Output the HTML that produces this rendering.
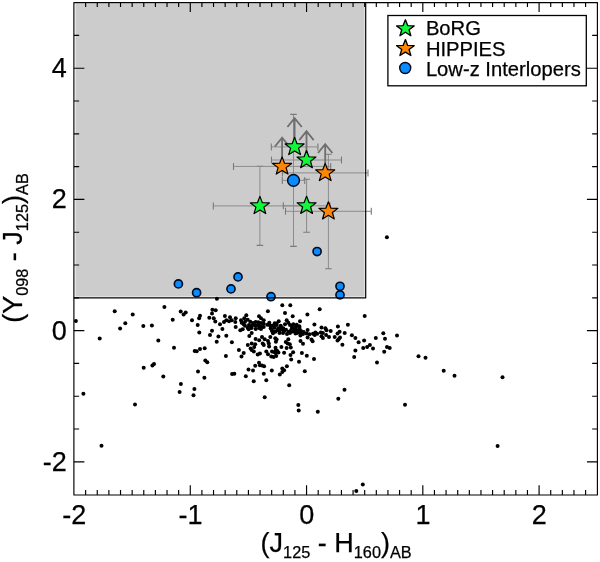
<!DOCTYPE html>
<html><head><meta charset="utf-8"><style>
html,body{margin:0;padding:0;background:#fff;}
svg{display:block;font-family:"Liberation Sans",sans-serif;will-change:transform;}
text{stroke:#000;stroke-width:0.25px;}
</style></head><body>
<svg width="600" height="562" viewBox="0 0 600 562">
<rect x="75.5" y="3.4" width="289.10" height="293.20" fill="#cccccc"/>
<circle cx="75.9" cy="321.1" r="2.0" fill="#000"/>
<circle cx="114.7" cy="311.3" r="2.0" fill="#000"/>
<circle cx="132.7" cy="314.6" r="2.0" fill="#000"/>
<circle cx="125.3" cy="323.3" r="2.0" fill="#000"/>
<circle cx="120.1" cy="328.6" r="2.0" fill="#000"/>
<circle cx="99.7" cy="338.5" r="2.0" fill="#000"/>
<circle cx="143.3" cy="325.9" r="2.0" fill="#000"/>
<circle cx="151.9" cy="325.4" r="2.0" fill="#000"/>
<circle cx="83.4" cy="393.8" r="2.0" fill="#000"/>
<circle cx="143.7" cy="367.7" r="2.0" fill="#000"/>
<circle cx="135.0" cy="404.6" r="2.0" fill="#000"/>
<circle cx="101.5" cy="445.7" r="2.0" fill="#000"/>
<circle cx="216.9" cy="298.7" r="2.0" fill="#000"/>
<circle cx="164.4" cy="307.0" r="2.0" fill="#000"/>
<circle cx="180.7" cy="311.4" r="2.0" fill="#000"/>
<circle cx="185.7" cy="312.6" r="2.0" fill="#000"/>
<circle cx="183.6" cy="314.6" r="2.0" fill="#000"/>
<circle cx="172.7" cy="319.8" r="2.0" fill="#000"/>
<circle cx="192.0" cy="320.3" r="2.0" fill="#000"/>
<circle cx="200.0" cy="315.7" r="2.0" fill="#000"/>
<circle cx="199.1" cy="318.3" r="2.0" fill="#000"/>
<circle cx="197.7" cy="325.0" r="2.0" fill="#000"/>
<circle cx="199.3" cy="332.6" r="2.0" fill="#000"/>
<circle cx="212.4" cy="309.7" r="2.0" fill="#000"/>
<circle cx="215.7" cy="310.3" r="2.0" fill="#000"/>
<circle cx="212.0" cy="313.4" r="2.0" fill="#000"/>
<circle cx="209.3" cy="317.7" r="2.0" fill="#000"/>
<circle cx="213.7" cy="318.3" r="2.0" fill="#000"/>
<circle cx="215.3" cy="321.4" r="2.0" fill="#000"/>
<circle cx="220.0" cy="324.3" r="2.0" fill="#000"/>
<circle cx="224.9" cy="316.1" r="2.0" fill="#000"/>
<circle cx="224.0" cy="322.1" r="2.0" fill="#000"/>
<circle cx="222.4" cy="329.1" r="2.0" fill="#000"/>
<circle cx="212.0" cy="330.7" r="2.0" fill="#000"/>
<circle cx="210.0" cy="335.0" r="2.0" fill="#000"/>
<circle cx="218.4" cy="336.6" r="2.0" fill="#000"/>
<circle cx="216.7" cy="341.7" r="2.0" fill="#000"/>
<circle cx="158.3" cy="340.6" r="2.0" fill="#000"/>
<circle cx="174.0" cy="347.7" r="2.0" fill="#000"/>
<circle cx="194.7" cy="351.0" r="2.0" fill="#000"/>
<circle cx="196.7" cy="351.3" r="2.0" fill="#000"/>
<circle cx="200.0" cy="349.0" r="2.0" fill="#000"/>
<circle cx="204.7" cy="348.3" r="2.0" fill="#000"/>
<circle cx="152.4" cy="365.5" r="2.0" fill="#000"/>
<circle cx="154.0" cy="364.0" r="2.0" fill="#000"/>
<circle cx="163.3" cy="376.4" r="2.0" fill="#000"/>
<circle cx="180.9" cy="384.0" r="2.0" fill="#000"/>
<circle cx="179.6" cy="392.0" r="2.0" fill="#000"/>
<circle cx="194.4" cy="388.9" r="2.0" fill="#000"/>
<circle cx="193.5" cy="395.3" r="2.0" fill="#000"/>
<circle cx="198.0" cy="371.6" r="2.0" fill="#000"/>
<circle cx="204.4" cy="377.7" r="2.0" fill="#000"/>
<circle cx="205.3" cy="360.4" r="2.0" fill="#000"/>
<circle cx="207.3" cy="362.3" r="2.0" fill="#000"/>
<circle cx="245.8" cy="376.2" r="2.0" fill="#000"/>
<circle cx="253.7" cy="381.2" r="2.0" fill="#000"/>
<circle cx="266.3" cy="380.3" r="2.0" fill="#000"/>
<circle cx="289.2" cy="385.3" r="2.0" fill="#000"/>
<circle cx="264.7" cy="397.2" r="2.0" fill="#000"/>
<circle cx="298.3" cy="405.0" r="2.0" fill="#000"/>
<circle cx="298.7" cy="410.5" r="2.0" fill="#000"/>
<circle cx="317.8" cy="411.7" r="2.0" fill="#000"/>
<circle cx="383.3" cy="333.3" r="2.0" fill="#000"/>
<circle cx="385.0" cy="338.7" r="2.0" fill="#000"/>
<circle cx="397.0" cy="335.5" r="2.0" fill="#000"/>
<circle cx="387.0" cy="347.0" r="2.0" fill="#000"/>
<circle cx="389.7" cy="348.0" r="2.0" fill="#000"/>
<circle cx="384.2" cy="351.7" r="2.0" fill="#000"/>
<circle cx="354.2" cy="357.0" r="2.0" fill="#000"/>
<circle cx="377.0" cy="362.5" r="2.0" fill="#000"/>
<circle cx="418.5" cy="356.3" r="2.0" fill="#000"/>
<circle cx="344.5" cy="389.7" r="2.0" fill="#000"/>
<circle cx="338.3" cy="398.8" r="2.0" fill="#000"/>
<circle cx="405.0" cy="404.7" r="2.0" fill="#000"/>
<circle cx="362.8" cy="484.5" r="2.0" fill="#000"/>
<circle cx="356.3" cy="491.0" r="2.0" fill="#000"/>
<circle cx="425.5" cy="357.8" r="2.0" fill="#000"/>
<circle cx="443.7" cy="370.8" r="2.0" fill="#000"/>
<circle cx="454.5" cy="375.8" r="2.0" fill="#000"/>
<circle cx="502.5" cy="377.3" r="2.0" fill="#000"/>
<circle cx="497.6" cy="446.0" r="2.0" fill="#000"/>
<circle cx="386.9" cy="237.3" r="2.0" fill="#000"/>
<circle cx="246.3" cy="315.3" r="2.0" fill="#000"/>
<circle cx="230.0" cy="317.3" r="2.0" fill="#000"/>
<circle cx="235.7" cy="318.3" r="2.0" fill="#000"/>
<circle cx="259.0" cy="316.3" r="2.0" fill="#000"/>
<circle cx="261.0" cy="318.3" r="2.0" fill="#000"/>
<circle cx="263.7" cy="320.3" r="2.0" fill="#000"/>
<circle cx="226.3" cy="320.3" r="2.0" fill="#000"/>
<circle cx="229.0" cy="321.3" r="2.0" fill="#000"/>
<circle cx="231.7" cy="320.3" r="2.0" fill="#000"/>
<circle cx="235.3" cy="322.0" r="2.0" fill="#000"/>
<circle cx="235.7" cy="327.0" r="2.0" fill="#000"/>
<circle cx="241.0" cy="320.3" r="2.0" fill="#000"/>
<circle cx="244.3" cy="318.3" r="2.0" fill="#000"/>
<circle cx="247.7" cy="319.7" r="2.0" fill="#000"/>
<circle cx="241.7" cy="322.7" r="2.0" fill="#000"/>
<circle cx="243.7" cy="324.3" r="2.0" fill="#000"/>
<circle cx="245.0" cy="321.7" r="2.0" fill="#000"/>
<circle cx="250.3" cy="321.7" r="2.0" fill="#000"/>
<circle cx="253.0" cy="323.0" r="2.0" fill="#000"/>
<circle cx="255.7" cy="322.0" r="2.0" fill="#000"/>
<circle cx="258.3" cy="322.3" r="2.0" fill="#000"/>
<circle cx="261.0" cy="323.0" r="2.0" fill="#000"/>
<circle cx="263.7" cy="323.7" r="2.0" fill="#000"/>
<circle cx="245.0" cy="325.7" r="2.0" fill="#000"/>
<circle cx="249.0" cy="325.0" r="2.0" fill="#000"/>
<circle cx="251.0" cy="326.3" r="2.0" fill="#000"/>
<circle cx="253.0" cy="325.0" r="2.0" fill="#000"/>
<circle cx="255.7" cy="325.7" r="2.0" fill="#000"/>
<circle cx="258.3" cy="325.0" r="2.0" fill="#000"/>
<circle cx="261.0" cy="326.3" r="2.0" fill="#000"/>
<circle cx="263.7" cy="327.0" r="2.0" fill="#000"/>
<circle cx="247.7" cy="327.7" r="2.0" fill="#000"/>
<circle cx="248.7" cy="329.3" r="2.0" fill="#000"/>
<circle cx="251.7" cy="328.0" r="2.0" fill="#000"/>
<circle cx="255.7" cy="329.0" r="2.0" fill="#000"/>
<circle cx="259.0" cy="328.0" r="2.0" fill="#000"/>
<circle cx="261.0" cy="329.0" r="2.0" fill="#000"/>
<circle cx="240.3" cy="330.3" r="2.0" fill="#000"/>
<circle cx="242.7" cy="329.3" r="2.0" fill="#000"/>
<circle cx="251.7" cy="333.0" r="2.0" fill="#000"/>
<circle cx="249.3" cy="336.0" r="2.0" fill="#000"/>
<circle cx="226.3" cy="335.7" r="2.0" fill="#000"/>
<circle cx="282.3" cy="305.3" r="2.0" fill="#000"/>
<circle cx="290.3" cy="305.3" r="2.0" fill="#000"/>
<circle cx="267.9" cy="311.3" r="2.0" fill="#000"/>
<circle cx="285.0" cy="313.0" r="2.0" fill="#000"/>
<circle cx="292.7" cy="316.3" r="2.0" fill="#000"/>
<circle cx="278.7" cy="321.3" r="2.0" fill="#000"/>
<circle cx="286.7" cy="320.3" r="2.0" fill="#000"/>
<circle cx="300.0" cy="321.3" r="2.0" fill="#000"/>
<circle cx="269.3" cy="322.7" r="2.0" fill="#000"/>
<circle cx="274.7" cy="323.3" r="2.0" fill="#000"/>
<circle cx="288.3" cy="322.7" r="2.0" fill="#000"/>
<circle cx="293.3" cy="324.3" r="2.0" fill="#000"/>
<circle cx="296.7" cy="324.7" r="2.0" fill="#000"/>
<circle cx="267.3" cy="324.7" r="2.0" fill="#000"/>
<circle cx="272.0" cy="325.7" r="2.0" fill="#000"/>
<circle cx="276.7" cy="325.0" r="2.0" fill="#000"/>
<circle cx="280.7" cy="325.7" r="2.0" fill="#000"/>
<circle cx="285.0" cy="324.3" r="2.0" fill="#000"/>
<circle cx="290.0" cy="325.0" r="2.0" fill="#000"/>
<circle cx="299.3" cy="326.3" r="2.0" fill="#000"/>
<circle cx="270.7" cy="328.3" r="2.0" fill="#000"/>
<circle cx="274.7" cy="327.7" r="2.0" fill="#000"/>
<circle cx="278.7" cy="328.3" r="2.0" fill="#000"/>
<circle cx="283.3" cy="328.3" r="2.0" fill="#000"/>
<circle cx="292.0" cy="328.0" r="2.0" fill="#000"/>
<circle cx="295.3" cy="327.7" r="2.0" fill="#000"/>
<circle cx="299.3" cy="329.0" r="2.0" fill="#000"/>
<circle cx="272.0" cy="331.0" r="2.0" fill="#000"/>
<circle cx="275.3" cy="331.7" r="2.0" fill="#000"/>
<circle cx="279.3" cy="330.7" r="2.0" fill="#000"/>
<circle cx="284.0" cy="331.3" r="2.0" fill="#000"/>
<circle cx="288.7" cy="331.7" r="2.0" fill="#000"/>
<circle cx="294.7" cy="331.3" r="2.0" fill="#000"/>
<circle cx="298.0" cy="332.3" r="2.0" fill="#000"/>
<circle cx="273.0" cy="333.3" r="2.0" fill="#000"/>
<circle cx="270.3" cy="337.0" r="2.0" fill="#000"/>
<circle cx="275.3" cy="338.3" r="2.0" fill="#000"/>
<circle cx="262.0" cy="337.0" r="2.0" fill="#000"/>
<circle cx="264.7" cy="339.3" r="2.0" fill="#000"/>
<circle cx="288.3" cy="339.3" r="2.0" fill="#000"/>
<circle cx="319.7" cy="309.3" r="2.0" fill="#000"/>
<circle cx="307.4" cy="314.4" r="2.0" fill="#000"/>
<circle cx="314.4" cy="324.4" r="2.0" fill="#000"/>
<circle cx="321.5" cy="327.4" r="2.0" fill="#000"/>
<circle cx="325.4" cy="328.3" r="2.0" fill="#000"/>
<circle cx="326.5" cy="330.3" r="2.0" fill="#000"/>
<circle cx="330.7" cy="331.0" r="2.0" fill="#000"/>
<circle cx="337.9" cy="326.4" r="2.0" fill="#000"/>
<circle cx="300.8" cy="333.5" r="2.0" fill="#000"/>
<circle cx="303.7" cy="332.0" r="2.0" fill="#000"/>
<circle cx="307.6" cy="329.9" r="2.0" fill="#000"/>
<circle cx="306.5" cy="333.5" r="2.0" fill="#000"/>
<circle cx="309.4" cy="334.2" r="2.0" fill="#000"/>
<circle cx="313.0" cy="333.8" r="2.0" fill="#000"/>
<circle cx="315.4" cy="332.4" r="2.0" fill="#000"/>
<circle cx="317.2" cy="333.8" r="2.0" fill="#000"/>
<circle cx="314.7" cy="334.9" r="2.0" fill="#000"/>
<circle cx="320.8" cy="332.4" r="2.0" fill="#000"/>
<circle cx="322.9" cy="333.1" r="2.0" fill="#000"/>
<circle cx="326.1" cy="334.9" r="2.0" fill="#000"/>
<circle cx="321.5" cy="336.3" r="2.0" fill="#000"/>
<circle cx="322.9" cy="338.1" r="2.0" fill="#000"/>
<circle cx="329.0" cy="337.0" r="2.0" fill="#000"/>
<circle cx="334.7" cy="337.0" r="2.0" fill="#000"/>
<circle cx="337.5" cy="333.5" r="2.0" fill="#000"/>
<circle cx="337.5" cy="340.6" r="2.0" fill="#000"/>
<circle cx="307.6" cy="337.4" r="2.0" fill="#000"/>
<circle cx="311.5" cy="339.5" r="2.0" fill="#000"/>
<circle cx="312.6" cy="341.3" r="2.0" fill="#000"/>
<circle cx="300.5" cy="340.9" r="2.0" fill="#000"/>
<circle cx="303.0" cy="343.8" r="2.0" fill="#000"/>
<circle cx="364.7" cy="315.9" r="2.0" fill="#000"/>
<circle cx="347.9" cy="324.8" r="2.0" fill="#000"/>
<circle cx="339.6" cy="331.7" r="2.0" fill="#000"/>
<circle cx="344.7" cy="332.9" r="2.0" fill="#000"/>
<circle cx="340.0" cy="337.6" r="2.0" fill="#000"/>
<circle cx="338.6" cy="339.2" r="2.0" fill="#000"/>
<circle cx="342.4" cy="344.8" r="2.0" fill="#000"/>
<circle cx="351.9" cy="335.3" r="2.0" fill="#000"/>
<circle cx="355.4" cy="338.0" r="2.0" fill="#000"/>
<circle cx="358.6" cy="342.2" r="2.0" fill="#000"/>
<circle cx="364.1" cy="340.5" r="2.0" fill="#000"/>
<circle cx="369.9" cy="344.9" r="2.0" fill="#000"/>
<circle cx="367.1" cy="346.9" r="2.0" fill="#000"/>
<circle cx="363.2" cy="347.9" r="2.0" fill="#000"/>
<circle cx="373.0" cy="348.5" r="2.0" fill="#000"/>
<circle cx="355.4" cy="350.6" r="2.0" fill="#000"/>
<circle cx="255.6" cy="338.9" r="2.0" fill="#000"/>
<circle cx="259.2" cy="340.3" r="2.0" fill="#000"/>
<circle cx="262.7" cy="343.5" r="2.0" fill="#000"/>
<circle cx="263.8" cy="345.0" r="2.0" fill="#000"/>
<circle cx="231.9" cy="342.3" r="2.0" fill="#000"/>
<circle cx="247.8" cy="345.0" r="2.0" fill="#000"/>
<circle cx="251.7" cy="343.5" r="2.0" fill="#000"/>
<circle cx="255.2" cy="344.3" r="2.0" fill="#000"/>
<circle cx="254.2" cy="347.1" r="2.0" fill="#000"/>
<circle cx="250.6" cy="348.5" r="2.0" fill="#000"/>
<circle cx="251.7" cy="350.0" r="2.0" fill="#000"/>
<circle cx="253.8" cy="351.5" r="2.0" fill="#000"/>
<circle cx="238.9" cy="350.0" r="2.0" fill="#000"/>
<circle cx="243.7" cy="353.1" r="2.0" fill="#000"/>
<circle cx="241.5" cy="356.4" r="2.0" fill="#000"/>
<circle cx="257.7" cy="354.4" r="2.0" fill="#000"/>
<circle cx="259.9" cy="353.4" r="2.0" fill="#000"/>
<circle cx="225.9" cy="356.0" r="2.0" fill="#000"/>
<circle cx="259.0" cy="362.8" r="2.0" fill="#000"/>
<circle cx="259.9" cy="365.2" r="2.0" fill="#000"/>
<circle cx="262.0" cy="365.6" r="2.0" fill="#000"/>
<circle cx="264.1" cy="366.3" r="2.0" fill="#000"/>
<circle cx="255.2" cy="365.7" r="2.0" fill="#000"/>
<circle cx="248.5" cy="369.4" r="2.0" fill="#000"/>
<circle cx="253.0" cy="370.4" r="2.0" fill="#000"/>
<circle cx="232.1" cy="374.0" r="2.0" fill="#000"/>
<circle cx="234.3" cy="373.8" r="2.0" fill="#000"/>
<circle cx="263.8" cy="373.8" r="2.0" fill="#000"/>
<circle cx="276.6" cy="339.6" r="2.0" fill="#000"/>
<circle cx="275.9" cy="341.8" r="2.0" fill="#000"/>
<circle cx="268.0" cy="341.0" r="2.0" fill="#000"/>
<circle cx="268.8" cy="343.5" r="2.0" fill="#000"/>
<circle cx="269.1" cy="346.4" r="2.0" fill="#000"/>
<circle cx="285.8" cy="342.1" r="2.0" fill="#000"/>
<circle cx="287.6" cy="343.5" r="2.0" fill="#000"/>
<circle cx="289.8" cy="344.3" r="2.0" fill="#000"/>
<circle cx="290.8" cy="347.5" r="2.0" fill="#000"/>
<circle cx="286.6" cy="348.0" r="2.0" fill="#000"/>
<circle cx="281.4" cy="347.1" r="2.0" fill="#000"/>
<circle cx="275.5" cy="347.8" r="2.0" fill="#000"/>
<circle cx="275.9" cy="349.9" r="2.0" fill="#000"/>
<circle cx="277.3" cy="351.0" r="2.0" fill="#000"/>
<circle cx="278.4" cy="352.4" r="2.0" fill="#000"/>
<circle cx="272.0" cy="351.4" r="2.0" fill="#000"/>
<circle cx="274.1" cy="352.1" r="2.0" fill="#000"/>
<circle cx="275.5" cy="353.1" r="2.0" fill="#000"/>
<circle cx="266.3" cy="351.5" r="2.0" fill="#000"/>
<circle cx="268.0" cy="354.2" r="2.0" fill="#000"/>
<circle cx="271.3" cy="356.4" r="2.0" fill="#000"/>
<circle cx="273.7" cy="357.1" r="2.0" fill="#000"/>
<circle cx="276.2" cy="356.0" r="2.0" fill="#000"/>
<circle cx="284.1" cy="352.8" r="2.0" fill="#000"/>
<circle cx="293.1" cy="352.2" r="2.0" fill="#000"/>
<circle cx="290.5" cy="354.9" r="2.0" fill="#000"/>
<circle cx="291.2" cy="359.6" r="2.0" fill="#000"/>
<circle cx="299.0" cy="361.7" r="2.0" fill="#000"/>
<circle cx="300.4" cy="335.4" r="2.0" fill="#000"/>
<circle cx="301.9" cy="353.1" r="2.0" fill="#000"/>
<circle cx="271.8" cy="370.4" r="2.0" fill="#000"/>
<circle cx="282.3" cy="368.5" r="2.0" fill="#000"/>
<circle cx="286.9" cy="366.3" r="2.0" fill="#000"/>
<circle cx="284.1" cy="370.2" r="2.0" fill="#000"/>
<circle cx="282.3" cy="372.0" r="2.0" fill="#000"/>
<circle cx="279.8" cy="374.5" r="2.0" fill="#000"/>
<circle cx="306.8" cy="355.8" r="2.0" fill="#000"/>
<circle cx="314.0" cy="359.1" r="2.0" fill="#000"/>
<circle cx="304.8" cy="371.2" r="2.0" fill="#000"/>
<circle cx="286.0" cy="329.8" r="2.0" fill="#000"/>
<circle cx="291.0" cy="330.2" r="2.0" fill="#000"/>
<circle cx="293.5" cy="329.0" r="2.0" fill="#000"/>
<circle cx="290.0" cy="333.0" r="2.0" fill="#000"/>
<circle cx="283.0" cy="333.0" r="2.0" fill="#000"/>
<circle cx="287.0" cy="334.0" r="2.0" fill="#000"/>
<circle cx="295.5" cy="333.5" r="2.0" fill="#000"/>
<circle cx="281.5" cy="329.5" r="2.0" fill="#000"/>
<circle cx="271.5" cy="329.5" r="2.0" fill="#000"/>
<circle cx="274.0" cy="326.0" r="2.0" fill="#000"/>
<circle cx="277.5" cy="330.0" r="2.0" fill="#000"/>
<circle cx="281.0" cy="327.0" r="2.0" fill="#000"/>
<circle cx="279.5" cy="333.0" r="2.0" fill="#000"/>
<circle cx="273.0" cy="331.5" r="2.0" fill="#000"/>
<circle cx="270.0" cy="325.5" r="2.0" fill="#000"/>
<circle cx="276.5" cy="323.5" r="2.0" fill="#000"/>
<circle cx="375.8" cy="338.0" r="2.0" fill="#000"/>
<circle cx="299.5" cy="328.0" r="2.0" fill="#000"/>
<circle cx="301.0" cy="331.0" r="2.0" fill="#000"/>
<circle cx="297.0" cy="330.5" r="2.0" fill="#000"/>
<circle cx="292.0" cy="326.0" r="2.0" fill="#000"/>
<circle cx="295.0" cy="329.0" r="2.0" fill="#000"/>
<circle cx="292.5" cy="331.5" r="2.0" fill="#000"/>
<circle cx="297.0" cy="333.0" r="2.0" fill="#000"/>
<circle cx="296.0" cy="326.5" r="2.0" fill="#000"/>
<circle cx="303.0" cy="334.0" r="2.0" fill="#000"/>
<path d="M213.30 205.90H306.50" stroke="#8c8c8c" stroke-width="1" fill="none"/><path d="M213.30 202.40v7.00M306.50 202.40v7.00" stroke="#7a7a7a" stroke-width="1.1" fill="none"/>
<path d="M259.90 166.40V245.40" stroke="#8c8c8c" stroke-width="1" fill="none"/><path d="M256.60 166.40h6.60M256.60 245.40h6.60" stroke="#7a7a7a" stroke-width="1.1" fill="none"/>
<path d="M283.30 205.80H329.90" stroke="#8c8c8c" stroke-width="1" fill="none"/><path d="M283.30 202.30v7.00M329.90 202.30v7.00" stroke="#7a7a7a" stroke-width="1.1" fill="none"/>
<path d="M306.60 179.30V232.30" stroke="#8c8c8c" stroke-width="1" fill="none"/><path d="M303.30 179.30h6.60M303.30 232.30h6.60" stroke="#7a7a7a" stroke-width="1.1" fill="none"/>
<path d="M285.50 211.30H371.30" stroke="#8c8c8c" stroke-width="1" fill="none"/><path d="M285.50 207.80v7.00M371.30 207.80v7.00" stroke="#7a7a7a" stroke-width="1.1" fill="none"/>
<path d="M328.40 154.20V268.80" stroke="#8c8c8c" stroke-width="1" fill="none"/><path d="M325.10 154.20h6.60M325.10 268.80h6.60" stroke="#7a7a7a" stroke-width="1.1" fill="none"/>
<path d="M271.30 146.90H317.90" stroke="#8c8c8c" stroke-width="1" fill="none"/><path d="M271.30 143.40v7.00M317.90 143.40v7.00" stroke="#7a7a7a" stroke-width="1.1" fill="none"/>
<path d="M271.50 160.00H341.50" stroke="#8c8c8c" stroke-width="1" fill="none"/><path d="M271.50 156.50v7.00M341.50 156.50v7.00" stroke="#7a7a7a" stroke-width="1.1" fill="none"/>
<path d="M233.50 166.40H330.70" stroke="#8c8c8c" stroke-width="1" fill="none"/><path d="M233.50 162.90v7.00M330.70 162.90v7.00" stroke="#7a7a7a" stroke-width="1.1" fill="none"/>
<path d="M282.40 172.90H368.00" stroke="#8c8c8c" stroke-width="1" fill="none"/><path d="M282.40 169.40v7.00M368.00 169.40v7.00" stroke="#7a7a7a" stroke-width="1.1" fill="none"/>
<path d="M282.30 180.40H304.70" stroke="#8c8c8c" stroke-width="1" fill="none"/><path d="M282.30 176.90v7.00M304.70 176.90v7.00" stroke="#7a7a7a" stroke-width="1.1" fill="none"/>
<path d="M293.50 114.40V246.40" stroke="#8c8c8c" stroke-width="1" fill="none"/><path d="M290.20 114.40h6.60M290.20 246.40h6.60" stroke="#7a7a7a" stroke-width="1.1" fill="none"/>
<path d="M294.60 146.90V118.10M287.40 127.00L294.60 118.10L301.80 127.00" stroke="#6e6e6e" stroke-width="1.8" fill="none" stroke-linejoin="miter"/>
<path d="M306.50 160.00V131.20M299.30 140.10L306.50 131.20L313.70 140.10" stroke="#6e6e6e" stroke-width="1.8" fill="none" stroke-linejoin="miter"/>
<path d="M282.10 166.40V137.60M274.90 146.50L282.10 137.60L289.30 146.50" stroke="#6e6e6e" stroke-width="1.8" fill="none" stroke-linejoin="miter"/>
<path d="M325.20 172.90V144.10M318.00 153.00L325.20 144.10L332.40 153.00" stroke="#6e6e6e" stroke-width="1.8" fill="none" stroke-linejoin="miter"/>
<circle cx="178.4" cy="283.90" r="4.05" fill="#0a8cff" stroke="#000a1c" stroke-width="1.65"/>
<circle cx="196.6" cy="292.70" r="4.05" fill="#0a8cff" stroke="#000a1c" stroke-width="1.65"/>
<circle cx="231.0" cy="288.90" r="4.05" fill="#0a8cff" stroke="#000a1c" stroke-width="1.65"/>
<circle cx="238.0" cy="276.90" r="4.05" fill="#0a8cff" stroke="#000a1c" stroke-width="1.65"/>
<circle cx="271.0" cy="296.70" r="4.05" fill="#0a8cff" stroke="#000a1c" stroke-width="1.65"/>
<circle cx="317.1" cy="251.50" r="4.05" fill="#0a8cff" stroke="#000a1c" stroke-width="1.65"/>
<circle cx="340.0" cy="286.30" r="4.05" fill="#0a8cff" stroke="#000a1c" stroke-width="1.65"/>
<circle cx="340.0" cy="294.90" r="4.05" fill="#0a8cff" stroke="#000a1c" stroke-width="1.65"/>
<circle cx="293.5" cy="180.4" r="5.9" fill="#0a8cff" stroke="#000a1c" stroke-width="1.4"/>
<polygon points="294.60,137.40 297.06,143.67 304.09,143.96 298.58,148.13 300.46,154.59 294.60,150.89 288.74,154.59 290.62,148.13 285.11,143.96 292.14,143.67" fill="#10f838" stroke="#000" stroke-width="1.20" stroke-linejoin="round"/>
<polygon points="306.50,150.50 308.96,156.77 315.99,157.06 310.48,161.23 312.36,167.69 306.50,163.99 300.64,167.69 302.52,161.23 297.01,157.06 304.04,156.77" fill="#10f838" stroke="#000" stroke-width="1.20" stroke-linejoin="round"/>
<polygon points="259.90,196.40 262.36,202.67 269.39,202.96 263.88,207.13 265.76,213.59 259.90,209.89 254.04,213.59 255.92,207.13 250.41,202.96 257.44,202.67" fill="#10f838" stroke="#000" stroke-width="1.20" stroke-linejoin="round"/>
<polygon points="306.60,196.30 309.06,202.57 316.09,202.86 310.58,207.03 312.46,213.49 306.60,209.79 300.74,213.49 302.62,207.03 297.11,202.86 304.14,202.57" fill="#10f838" stroke="#000" stroke-width="1.20" stroke-linejoin="round"/>
<polygon points="282.10,156.90 284.56,163.17 291.59,163.46 286.08,167.63 287.96,174.09 282.10,170.39 276.24,174.09 278.12,167.63 272.61,163.46 279.64,163.17" fill="#ff8505" stroke="#000" stroke-width="1.20" stroke-linejoin="round"/>
<polygon points="325.20,163.40 327.66,169.67 334.69,169.96 329.18,174.13 331.06,180.59 325.20,176.89 319.34,180.59 321.22,174.13 315.71,169.96 322.74,169.67" fill="#ff8505" stroke="#000" stroke-width="1.20" stroke-linejoin="round"/>
<polygon points="328.40,201.80 330.86,208.07 337.89,208.36 332.38,212.53 334.26,218.99 328.40,215.29 322.54,218.99 324.42,212.53 318.91,208.36 325.94,208.07" fill="#ff8505" stroke="#000" stroke-width="1.20" stroke-linejoin="round"/>
<path d="M365.7 2.55V297.9H73.90" fill="none" stroke="#000" stroke-width="1.2" stroke-linejoin="round"/>
<rect x="73.90" y="2.55" width="523.50" height="492.45" fill="none" stroke="#000" stroke-width="1.15" stroke-linejoin="round"/>
<path d="M85.64 495.00v-4.92M85.64 2.55v4.47M97.26 495.00v-4.92M97.26 2.55v4.47M108.89 495.00v-4.92M108.89 2.55v4.47M120.52 495.00v-4.92M120.52 2.55v4.47M132.15 495.00v-4.92M132.15 2.55v4.47M143.77 495.00v-4.92M143.77 2.55v4.47M155.40 495.00v-4.92M155.40 2.55v4.47M167.03 495.00v-4.92M167.03 2.55v4.47M178.65 495.00v-4.92M178.65 2.55v4.47M190.28 495.00v-9.85M190.28 2.55v9.40M201.91 495.00v-4.92M201.91 2.55v4.47M213.53 495.00v-4.92M213.53 2.55v4.47M225.16 495.00v-4.92M225.16 2.55v4.47M236.79 495.00v-4.92M236.79 2.55v4.47M248.42 495.00v-4.92M248.42 2.55v4.47M260.04 495.00v-4.92M260.04 2.55v4.47M271.67 495.00v-4.92M271.67 2.55v4.47M283.30 495.00v-4.92M283.30 2.55v4.47M294.92 495.00v-4.92M294.92 2.55v4.47M306.55 495.00v-9.85M306.55 2.55v9.40M318.18 495.00v-4.92M318.18 2.55v4.47M329.80 495.00v-4.92M329.80 2.55v4.47M341.43 495.00v-4.92M341.43 2.55v4.47M353.06 495.00v-4.92M353.06 2.55v4.47M364.69 495.00v-4.92M364.69 2.55v4.47M376.31 495.00v-4.92M376.31 2.55v4.47M387.94 495.00v-4.92M387.94 2.55v4.47M399.57 495.00v-4.92M399.57 2.55v4.47M411.19 495.00v-4.92M411.19 2.55v4.47M422.82 495.00v-9.85M422.82 2.55v9.40M434.45 495.00v-4.92M434.45 2.55v4.47M446.07 495.00v-4.92M446.07 2.55v4.47M457.70 495.00v-4.92M457.70 2.55v4.47M469.33 495.00v-4.92M469.33 2.55v4.47M480.96 495.00v-4.92M480.96 2.55v4.47M492.58 495.00v-4.92M492.58 2.55v4.47M504.21 495.00v-4.92M504.21 2.55v4.47M515.84 495.00v-4.92M515.84 2.55v4.47M527.46 495.00v-4.92M527.46 2.55v4.47M539.09 495.00v-9.85M539.09 2.55v9.40M550.72 495.00v-4.92M550.72 2.55v4.47M562.34 495.00v-4.92M562.34 2.55v4.47M573.97 495.00v-4.92M573.97 2.55v4.47M585.60 495.00v-4.92M585.60 2.55v4.47M73.90 461.80h10.47M597.40 461.80h-10.47M73.90 429.00h5.24M597.40 429.00h-5.24M73.90 396.20h5.24M597.40 396.20h-5.24M73.90 363.40h5.24M597.40 363.40h-5.24M73.90 330.60h10.47M597.40 330.60h-10.47M73.90 297.80h5.24M597.40 297.80h-5.24M73.90 265.00h5.24M597.40 265.00h-5.24M73.90 232.20h5.24M597.40 232.20h-5.24M73.90 199.40h10.47M597.40 199.40h-10.47M73.90 166.60h5.24M597.40 166.60h-5.24M73.90 133.80h5.24M597.40 133.80h-5.24M73.90 101.00h5.24M597.40 101.00h-5.24M73.90 68.20h10.47M597.40 68.20h-10.47M73.90 35.40h5.24M597.40 35.40h-5.24" stroke="#000" stroke-width="1.15" fill="none"/>
<rect x="387.9" y="15.5" width="198.4" height="70.3" fill="#fff" stroke="#000" stroke-width="1.3"/>
<polygon points="405.40,19.80 407.68,25.61 414.19,25.88 409.09,29.74 410.83,35.72 405.40,32.30 399.97,35.72 401.71,29.74 396.61,25.88 403.12,25.61" fill="#10f838" stroke="#000" stroke-width="1.35" stroke-linejoin="round"/>
<polygon points="405.40,39.60 407.68,45.41 414.19,45.68 409.09,49.54 410.83,55.52 405.40,52.10 399.97,55.52 401.71,49.54 396.61,45.68 403.12,45.41" fill="#ff8505" stroke="#000" stroke-width="1.35" stroke-linejoin="round"/>
<circle cx="405.2" cy="68.0" r="5.5" fill="#0a8cff" stroke="#000a1c" stroke-width="1.4"/>
<text x="425.9" y="35" font-size="20.2" stroke="#000" stroke-width="0.3">BoRG</text>
<text x="425.9" y="55.6" font-size="20.2" stroke="#000" stroke-width="0.3">HIPPIES</text>
<text x="425.9" y="75.8" font-size="20.2" stroke="#000" stroke-width="0.3">Low-z Interlopers</text>
<text x="74.31" y="524.1" font-size="27.0" text-anchor="middle">-2</text>
<text x="190.58" y="524.1" font-size="27.0" text-anchor="middle">-1</text>
<text x="306.85" y="524.1" font-size="27.0" text-anchor="middle">0</text>
<text x="423.12" y="524.1" font-size="27.0" text-anchor="middle">1</text>
<text x="539.39" y="524.1" font-size="27.0" text-anchor="middle">2</text>
<text x="66.8" y="470.70" font-size="27.0" text-anchor="end">-2</text>
<text x="66.8" y="339.50" font-size="27.0" text-anchor="end">0</text>
<text x="66.8" y="208.30" font-size="27.0" text-anchor="end">2</text>
<text x="66.8" y="77.10" font-size="27.0" text-anchor="end">4</text>
<text x="260.6" y="552" font-size="27.0">(J<tspan font-size="16.3" dy="5.6">125</tspan><tspan dy="-5.6"> - H</tspan><tspan font-size="16.3" dy="5.6">160</tspan><tspan dy="-5.6">)</tspan><tspan font-size="16.3" dy="5.6">AB</tspan></text>
<text transform="translate(22.2,322.8) rotate(-90)" font-size="27.0">(Y<tspan font-size="16.3" dy="5.6">098</tspan><tspan dy="-5.6"> - J</tspan><tspan font-size="16.3" dy="5.6">125</tspan><tspan dy="-5.6">)</tspan><tspan font-size="16.3" dy="5.6">AB</tspan></text>
</svg>
</body></html>
